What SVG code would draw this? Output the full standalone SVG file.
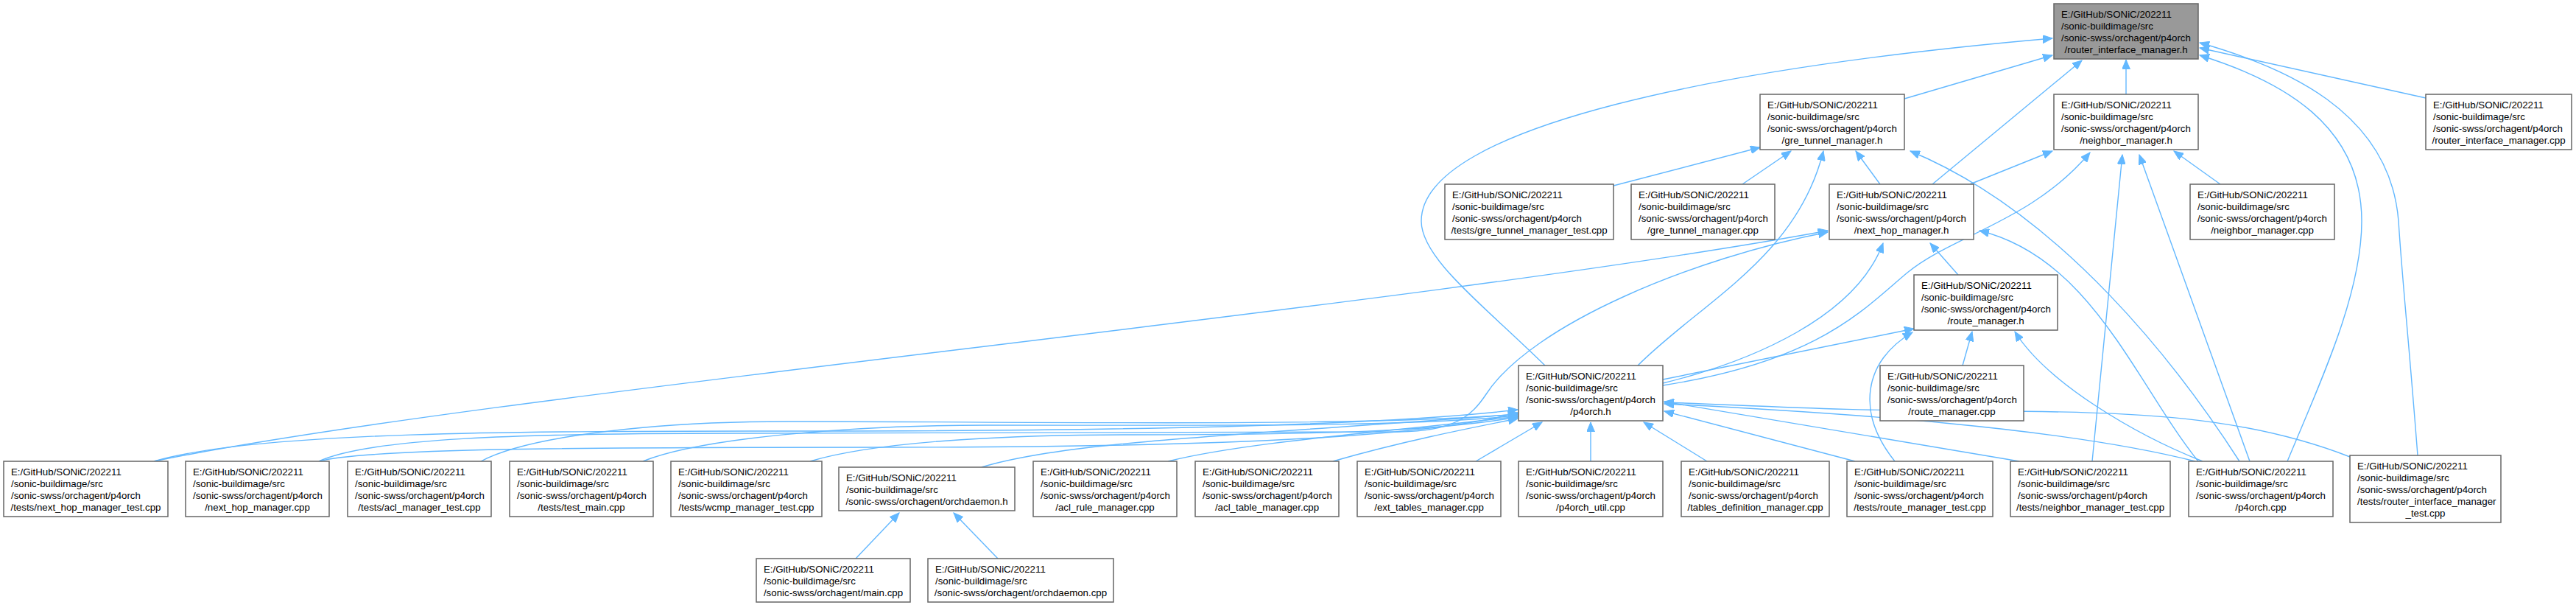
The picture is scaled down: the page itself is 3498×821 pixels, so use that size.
<svg xmlns="http://www.w3.org/2000/svg" width="3498" height="821" viewBox="0 0 3498 821">
<style>
.n rect{fill:#ffffff;stroke:#666666;stroke-width:1.5}
.n.root rect{fill:#999999}
.n text{font-family:"Liberation Sans",Arial,sans-serif;font-size:13.3px;fill:#000000}
.n text.c{text-anchor:middle}
.e path{fill:none;stroke:#63b8ff;stroke-width:1.4;marker-end:url(#a)}
</style>
<defs>
<marker id="a" markerUnits="userSpaceOnUse" markerWidth="14" markerHeight="11" viewBox="0 0 14 11" refX="13" refY="5.5" orient="auto"><path d="M0,0 L13,5.5 L0,11 z" fill="#63b8ff" stroke="#63b8ff" stroke-width="1"/></marker>
</defs>
<rect x="0" y="0" width="3498" height="821" fill="#ffffff"/>
<g id="edges" class="e">
<path d="M2586,134 L2787,75"/>
<path d="M2098,496 C2010,410 1930,350 1930,300 C1930,170 2350,90 2787,52"/>
<path d="M2887,128 L2887,81"/>
<path d="M2624,250 L2827,82"/>
<path d="M3294,133 L2987,65"/>
<path d="M3283,618 C3270,450 3262,380 3257,300 C3245,150 3100,90 2987,58"/>
<path d="M3106,626 C3150,520 3207,400 3207,300 C3207,170 3100,110 2987,75"/>
<path d="M2191,252 L2390,200"/>
<path d="M2366,250 L2432,205"/>
<path d="M2224,496 C2310,410 2440,350 2476,205"/>
<path d="M2553,250 L2520,205"/>
<path d="M3041,626 C2960,500 2800,290 2594,205"/>
<path d="M2985,626 C2900,520 2840,350 2688,313"/>
<path d="M2675,250 L2787,205"/>
<path d="M2258,523 C2470,490 2530,420 2590,370 C2650,320 2760,300 2838,207"/>
<path d="M2841,626 L2882,210"/>
<path d="M3055,626 L2905,210"/>
<path d="M3015,250 L2952,205"/>
<path d="M209,626 C650,535 1900,420 2482,313"/>
<path d="M433,626 C500,595 700,588 1000,588 L1900,586 C1975,585 1998,565 2018,535 C2080,440 2300,350 2482,315"/>
<path d="M2659,373 L2621,330"/>
<path d="M2258,520 C2380,490 2520,430 2557,330"/>
<path d="M2258,515 L2599,446"/>
<path d="M2573,626 C2520,560 2530,490 2597,451"/>
<path d="M2665,496 L2678,450"/>
<path d="M2991,626 C2900,590 2780,520 2736,450"/>
<path d="M209,626 C350,585 700,585 1100,585 C1600,585 1900,575 2061,556"/>
<path d="M433,626 C500,608 800,607 1200,607 C1700,607 1950,590 2061,560"/>
<path d="M653,626 C720,590 900,572 1071,572 C1400,572 1850,580 2061,562"/>
<path d="M873,626 C950,595 1150,577 1339,577 C1650,577 1900,580 2061,564"/>
<path d="M1100,626 C1200,596 1400,590 1540,590 C1800,590 1950,585 2061,566"/>
<path d="M1333,634 C1450,598 1700,590 2061,562"/>
<path d="M1586,626 C1700,598 1900,585 2061,565"/>
<path d="M1810,626 C1900,600 1990,582 2061,568"/>
<path d="M2004,626 L2094,573"/>
<path d="M2160,626 L2160,573"/>
<path d="M2318,626 L2232,573"/>
<path d="M2519,626 L2260,558"/>
<path d="M2742,626 L2260,545"/>
<path d="M2981,626 C2800,580 2500,560 2260,548"/>
<path d="M3191,620 C3050,565 2900,558 2700,558 C2500,558 2380,550 2260,546"/>
<path d="M1162,758 L1221,696"/>
<path d="M1355,758 L1295,696"/>
</g>
<g id="root" class="n root"><rect x="2789" y="5" width="196" height="75"/><text x="2799" y="24">E:/GitHub/SONiC/202211</text><text x="2799" y="40">/sonic-buildimage/src</text><text x="2799" y="56">/sonic-swss/orchagent/p4orch</text><text class="c" x="2887" y="72">/router_interface_manager.h</text></g>
<g id="gre_h" class="n"><rect x="2390" y="128" width="196" height="75"/><text x="2400" y="147">E:/GitHub/SONiC/202211</text><text x="2400" y="163">/sonic-buildimage/src</text><text x="2400" y="179">/sonic-swss/orchagent/p4orch</text><text class="c" x="2488" y="195">/gre_tunnel_manager.h</text></g>
<g id="neigh_h" class="n"><rect x="2789" y="128" width="196" height="75"/><text x="2799" y="147">E:/GitHub/SONiC/202211</text><text x="2799" y="163">/sonic-buildimage/src</text><text x="2799" y="179">/sonic-swss/orchagent/p4orch</text><text class="c" x="2887" y="195">/neighbor_manager.h</text></g>
<g id="rim_cpp" class="n"><rect x="3294" y="128" width="198" height="75"/><text x="3304" y="147">E:/GitHub/SONiC/202211</text><text x="3304" y="163">/sonic-buildimage/src</text><text x="3304" y="179">/sonic-swss/orchagent/p4orch</text><text class="c" x="3393" y="195">/router_interface_manager.cpp</text></g>
<g id="gre_test" class="n"><rect x="1962" y="250" width="229" height="75"/><text x="1972" y="269">E:/GitHub/SONiC/202211</text><text x="1972" y="285">/sonic-buildimage/src</text><text x="1972" y="301">/sonic-swss/orchagent/p4orch</text><text class="c" x="2076.5" y="317">/tests/gre_tunnel_manager_test.cpp</text></g>
<g id="gre_cpp" class="n"><rect x="2215" y="250" width="195" height="75"/><text x="2225" y="269">E:/GitHub/SONiC/202211</text><text x="2225" y="285">/sonic-buildimage/src</text><text x="2225" y="301">/sonic-swss/orchagent/p4orch</text><text class="c" x="2312.5" y="317">/gre_tunnel_manager.cpp</text></g>
<g id="nh_h" class="n"><rect x="2484" y="250" width="196" height="75"/><text x="2494" y="269">E:/GitHub/SONiC/202211</text><text x="2494" y="285">/sonic-buildimage/src</text><text x="2494" y="301">/sonic-swss/orchagent/p4orch</text><text class="c" x="2582" y="317">/next_hop_manager.h</text></g>
<g id="neigh_cpp" class="n"><rect x="2974" y="250" width="196" height="75"/><text x="2984" y="269">E:/GitHub/SONiC/202211</text><text x="2984" y="285">/sonic-buildimage/src</text><text x="2984" y="301">/sonic-swss/orchagent/p4orch</text><text class="c" x="3072" y="317">/neighbor_manager.cpp</text></g>
<g id="route_h" class="n"><rect x="2599" y="373" width="195" height="75"/><text x="2609" y="392">E:/GitHub/SONiC/202211</text><text x="2609" y="408">/sonic-buildimage/src</text><text x="2609" y="424">/sonic-swss/orchagent/p4orch</text><text class="c" x="2696.5" y="440">/route_manager.h</text></g>
<g id="p4orch_h" class="n"><rect x="2062" y="496" width="196" height="75"/><text x="2072" y="515">E:/GitHub/SONiC/202211</text><text x="2072" y="531">/sonic-buildimage/src</text><text x="2072" y="547">/sonic-swss/orchagent/p4orch</text><text class="c" x="2160" y="563">/p4orch.h</text></g>
<g id="route_cpp" class="n"><rect x="2553" y="496" width="195" height="75"/><text x="2563" y="515">E:/GitHub/SONiC/202211</text><text x="2563" y="531">/sonic-buildimage/src</text><text x="2563" y="547">/sonic-swss/orchagent/p4orch</text><text class="c" x="2650.5" y="563">/route_manager.cpp</text></g>
<g id="nhm_test" class="n"><rect x="5" y="626" width="223" height="75"/><text x="15" y="645">E:/GitHub/SONiC/202211</text><text x="15" y="661">/sonic-buildimage/src</text><text x="15" y="677">/sonic-swss/orchagent/p4orch</text><text class="c" x="116.5" y="693">/tests/next_hop_manager_test.cpp</text></g>
<g id="nhm_cpp" class="n"><rect x="252" y="626" width="195" height="75"/><text x="262" y="645">E:/GitHub/SONiC/202211</text><text x="262" y="661">/sonic-buildimage/src</text><text x="262" y="677">/sonic-swss/orchagent/p4orch</text><text class="c" x="349.5" y="693">/next_hop_manager.cpp</text></g>
<g id="acl_test" class="n"><rect x="472" y="626" width="195" height="75"/><text x="482" y="645">E:/GitHub/SONiC/202211</text><text x="482" y="661">/sonic-buildimage/src</text><text x="482" y="677">/sonic-swss/orchagent/p4orch</text><text class="c" x="569.5" y="693">/tests/acl_manager_test.cpp</text></g>
<g id="test_main" class="n"><rect x="692" y="626" width="195" height="75"/><text x="702" y="645">E:/GitHub/SONiC/202211</text><text x="702" y="661">/sonic-buildimage/src</text><text x="702" y="677">/sonic-swss/orchagent/p4orch</text><text class="c" x="789.5" y="693">/tests/test_main.cpp</text></g>
<g id="wcmp_test" class="n"><rect x="911" y="626" width="205" height="75"/><text x="921" y="645">E:/GitHub/SONiC/202211</text><text x="921" y="661">/sonic-buildimage/src</text><text x="921" y="677">/sonic-swss/orchagent/p4orch</text><text class="c" x="1013.5" y="693">/tests/wcmp_manager_test.cpp</text></g>
<g id="orchdaemon_h" class="n"><rect x="1139" y="634" width="239" height="59"/><text x="1149" y="653">E:/GitHub/SONiC/202211</text><text x="1149" y="669">/sonic-buildimage/src</text><text class="c" x="1258.5" y="685">/sonic-swss/orchagent/orchdaemon.h</text></g>
<g id="acl_rule" class="n"><rect x="1403" y="626" width="195" height="75"/><text x="1413" y="645">E:/GitHub/SONiC/202211</text><text x="1413" y="661">/sonic-buildimage/src</text><text x="1413" y="677">/sonic-swss/orchagent/p4orch</text><text class="c" x="1500.5" y="693">/acl_rule_manager.cpp</text></g>
<g id="acl_table" class="n"><rect x="1623" y="626" width="195" height="75"/><text x="1633" y="645">E:/GitHub/SONiC/202211</text><text x="1633" y="661">/sonic-buildimage/src</text><text x="1633" y="677">/sonic-swss/orchagent/p4orch</text><text class="c" x="1720.5" y="693">/acl_table_manager.cpp</text></g>
<g id="ext_tables" class="n"><rect x="1843" y="626" width="195" height="75"/><text x="1853" y="645">E:/GitHub/SONiC/202211</text><text x="1853" y="661">/sonic-buildimage/src</text><text x="1853" y="677">/sonic-swss/orchagent/p4orch</text><text class="c" x="1940.5" y="693">/ext_tables_manager.cpp</text></g>
<g id="p4orch_util" class="n"><rect x="2062" y="626" width="196" height="75"/><text x="2072" y="645">E:/GitHub/SONiC/202211</text><text x="2072" y="661">/sonic-buildimage/src</text><text x="2072" y="677">/sonic-swss/orchagent/p4orch</text><text class="c" x="2160" y="693">/p4orch_util.cpp</text></g>
<g id="tables_def" class="n"><rect x="2283" y="626" width="201" height="75"/><text x="2293" y="645">E:/GitHub/SONiC/202211</text><text x="2293" y="661">/sonic-buildimage/src</text><text x="2293" y="677">/sonic-swss/orchagent/p4orch</text><text class="c" x="2383.5" y="693">/tables_definition_manager.cpp</text></g>
<g id="route_test" class="n"><rect x="2508" y="626" width="198" height="75"/><text x="2518" y="645">E:/GitHub/SONiC/202211</text><text x="2518" y="661">/sonic-buildimage/src</text><text x="2518" y="677">/sonic-swss/orchagent/p4orch</text><text class="c" x="2607" y="693">/tests/route_manager_test.cpp</text></g>
<g id="neigh_test" class="n"><rect x="2730" y="626" width="217" height="75"/><text x="2740" y="645">E:/GitHub/SONiC/202211</text><text x="2740" y="661">/sonic-buildimage/src</text><text x="2740" y="677">/sonic-swss/orchagent/p4orch</text><text class="c" x="2838.5" y="693">/tests/neighbor_manager_test.cpp</text></g>
<g id="p4orch_cpp" class="n"><rect x="2972" y="626" width="196" height="75"/><text x="2982" y="645">E:/GitHub/SONiC/202211</text><text x="2982" y="661">/sonic-buildimage/src</text><text x="2982" y="677">/sonic-swss/orchagent/p4orch</text><text class="c" x="3070" y="693">/p4orch.cpp</text></g>
<g id="rim_test" class="n"><rect x="3191" y="618" width="205" height="91"/><text x="3201" y="637">E:/GitHub/SONiC/202211</text><text x="3201" y="653">/sonic-buildimage/src</text><text x="3201" y="669">/sonic-swss/orchagent/p4orch</text><text x="3201" y="685">/tests/router_interface_manager</text><text class="c" x="3293.5" y="701">_test.cpp</text></g>
<g id="main_cpp" class="n"><rect x="1027" y="758" width="209" height="59"/><text x="1037" y="777">E:/GitHub/SONiC/202211</text><text x="1037" y="793">/sonic-buildimage/src</text><text class="c" x="1131.5" y="809">/sonic-swss/orchagent/main.cpp</text></g>
<g id="orchdaemon_cpp" class="n"><rect x="1260" y="758" width="252" height="59"/><text x="1270" y="777">E:/GitHub/SONiC/202211</text><text x="1270" y="793">/sonic-buildimage/src</text><text class="c" x="1386" y="809">/sonic-swss/orchagent/orchdaemon.cpp</text></g>
</svg>
